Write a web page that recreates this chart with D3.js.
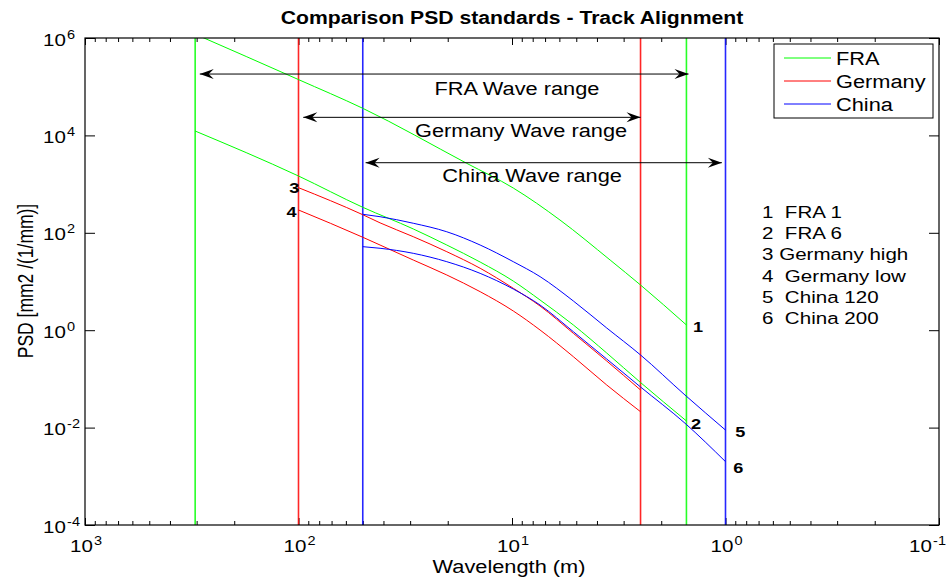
<!DOCTYPE html>
<html>
<head>
<meta charset="utf-8">
<script src="https://cdn.jsdelivr.net/npm/d3@7"></script>
<style>
	body { margin: 0; background: #fff; }
	svg { display: block; font-family: Arial, "Liberation Sans", Helvetica, sans-serif; }
	.tick line { stroke: #000; }
</style>
</head>
<body>
<script>

// кривые PSD: длина волны (м) и значение (mm2/(1/mm))
const fra1Wave = [304.8, 100, 50, 16.3, 9.86, 5.96, 3.47, 2.5, 1.524];
const fra1Psd = [1.2e6, 1.4e5, 3.6e4, 2674, 830, 183, 27.6, 8.47, 1.28];

const fra6Wave = [304.8, 100, 50, 29, 20.2, 14.1, 9.86, 7.39, 5.16, 3.6, 2.5, 1.524];
const fra6Psd = [1.23e4, 1466, 334, 120, 56.1, 25.1, 10.2, 4.17, 1.28, 0.34, 0.0843, 0.0137];

const germanyWave = [100, 50, 41.5, 29, 20.2, 14.1, 9.86, 7.39, 5.16, 3.6, 2.5];
const germanyHighPsd = [844, 235, 160, 83.2, 40.9, 18.7, 7.25, 3.14, 0.863, 0.233, 0.0592];
const germanyLowPsd = [294, 81, 56.1, 27.6, 13.6, 6.18, 2.48, 1.01, 0.286, 0.075, 0.0212];

const chinaWave = [50, 41.5, 29, 20.2, 14.1, 9.86, 7.39, 5.16, 3.6, 2.5, 1.548, 1];
const china120Psd = [240, 214, 157, 105, 56.1, 25.5, 12.6, 3.98, 1.11, 0.31, 0.0467, 0.0089];
const china200Psd = [51.9, 48.1, 37.9, 25.5, 14.7, 7.0, 3.29, 0.931, 0.256, 0.0682, 0.0123, 0.002];

// границы диапазонов длин волн (вертикальные линии)
const standards = ["FRA", "Germany", "China"];
const rangeLong = [304.8, 100, 50];
const rangeShort = [1.524, 2.5, 1];

// стрелки диапазонов
const arrowFrom = [290, 95, 48.5];
const arrowTo = [1.49, 2.5, 1.04];
const arrowLevel = [1.82e5, 2.35e4, 2750];
const rangeLabels = ["FRA Wave range", "Germany Wave range", "China Wave range"];
const rangeLabelWave = [9.48, 9.07, 8.05];
const rangeLabelPsd = [6.7e4, 9270, 1100];

// подписи кривых
const curveNumbers = ["1", "2", "3", "4", "5", "6"];
const curveNames = ["FRA 1", "FRA 6", "Germany high", "Germany low", "China 120", "China 200"];
const curveNumberWave = [1.42, 1.45, 99, 102, 0.9, 0.92];
const curveNumberPsd = [0.918, 0.0094, 656, 211, 0.0064, 0.00117];

// оси
const waveTicks = [1000, 100, 10, 1, 0.1];
const psdTicks = [1e-4, 1e-2, 1, 1e2, 1e4, 1e6];

const w = 951,
	h = 580,
	plot = { left: 85, right: 939, top: 38, bottom: 525 },
	stretch = 1.21;

const colors = { FRA: "#00ff00", Germany: "#ff0000", China: "#0000ff" };

const series = [
	{ group: "FRA", wave: fra1Wave, psd: fra1Psd },
	{ group: "FRA", wave: fra6Wave, psd: fra6Psd },
	{ group: "Germany", wave: germanyWave, psd: germanyHighPsd },
	{ group: "Germany", wave: germanyWave, psd: germanyLowPsd },
	{ group: "China", wave: chinaWave, psd: china120Psd },
	{ group: "China", wave: chinaWave, psd: china200Psd }
];

const x = d3.scaleLog().domain([1000, 0.1]).range([plot.left, plot.right]),
	y = d3.scaleLog().domain([1e-4, 1e6]).range([plot.bottom, plot.top]);

const svg = d3
	.select("body")
	.append("svg")
	.attr("width", w)
	.attr("height", h);

// текст, растянутый по горизонтали как в исходной картинке
function label(g, px, py, str, size, anchor, weight) {
	return g
		.append("text")
		.attr("transform", `translate(${px},${py}) scale(${stretch},1)`)
		.attr("text-anchor", anchor || "start")
		.attr("font-size", size)
		.attr("font-weight", weight || "normal")
		.style("white-space", "pre")
		.text(str);
}

svg.append("clipPath")
	.attr("id", "clip")
	.append("rect")
	.attr("x", plot.left)
	.attr("y", plot.top)
	.attr("width", plot.right - plot.left)
	.attr("height", plot.bottom - plot.top);

// засечки
const minorTicks = [];
[-1, 0, 1, 2].forEach(k => {
	for (let m = 2; m <= 9; m++) minorTicks.push(m * Math.pow(10, k));
});

const axes = svg.append("g");

function drawAxis(axis, tx, ty, values, size) {
	axes.append("g")
		.attr("transform", `translate(${tx},${ty})`)
		.call(axis.tickValues(values).tickSizeInner(-size).tickSizeOuter(0).tickFormat(""))
		.call(g => g.select(".domain").remove());
}

drawAxis(d3.axisBottom(x), 0, plot.bottom, waveTicks, 7);
drawAxis(d3.axisBottom(x), 0, plot.bottom, minorTicks, 4);
drawAxis(d3.axisTop(x), 0, plot.top, waveTicks, 7);
drawAxis(d3.axisTop(x), 0, plot.top, minorTicks, 4);
drawAxis(d3.axisLeft(y), plot.left, 0, psdTicks, 10);
drawAxis(d3.axisRight(y), plot.right, 0, psdTicks, 10);

// кривые
const line = d3
	.line()
	.x(d => x(d[0]))
	.y(d => y(d[1]))
	.curve(d3.curveMonotoneX);

const curves = svg.append("g").attr("clip-path", "url(#clip)");

// вертикальные границы диапазонов
standards.forEach((s, i) => {
	[rangeLong[i], rangeShort[i]].forEach(v => {
		curves.append("line")
			.attr("x1", x(v))
			.attr("x2", x(v))
			.attr("y1", y(1e-4))
			.attr("y2", y(1e6))
			.attr("stroke", colors[s])
			.attr("stroke-opacity", 0.85)
			.attr("stroke-width", 1.6);
	});
});

curves.selectAll("path.curve")
	.data(series)
	.enter()
	.append("path")
	.attr("class", "curve")
	.attr("fill", "none")
	.attr("stroke", d => colors[d.group])
	.attr("stroke-width", 1)
	.attr("d", d => line(d.wave.map((v, i) => [v, d.psd[i]])));

// стрелки
svg.append("defs")
	.append("marker")
	.attr("id", "arrow")
	.attr("viewBox", "-15 -6 16 12")
	.attr("refX", 0)
	.attr("refY", 0)
	.attr("markerWidth", 16)
	.attr("markerHeight", 12)
	.attr("markerUnits", "userSpaceOnUse")
	.attr("orient", "auto-start-reverse")
	.append("path")
	.attr("d", "M0,0L-14,-5L-9,0L-14,5Z")
	.attr("fill", "#000");

const notes = svg.append("g");

rangeLabels.forEach((t, i) => {
	notes.append("line")
		.attr("x1", x(arrowFrom[i]))
		.attr("x2", x(arrowTo[i]))
		.attr("y1", y(arrowLevel[i]))
		.attr("y2", y(arrowLevel[i]))
		.attr("stroke", "#000")
		.attr("stroke-width", 1)
		.attr("marker-start", "url(#arrow)")
		.attr("marker-end", "url(#arrow)");

	label(notes, x(rangeLabelWave[i]), y(rangeLabelPsd[i]), t, 18, "middle");
});

// номера кривых
curveNumbers.forEach((n, i) => {
	label(notes, x(curveNumberWave[i]), y(curveNumberPsd[i]), n, 15, i === 2 || i === 3 ? "end" : "start", "bold");
});

// список обозначений
curveNames.forEach((n, i) => {
	const gap = i === 2 ? " " : "  ";
	label(notes, 762, 218 + i * 21.2, curveNumbers[i] + gap + n, 17);
});

// рамка осей
svg.append("rect")
	.attr("x", plot.left)
	.attr("y", plot.top)
	.attr("width", plot.right - plot.left)
	.attr("height", plot.bottom - plot.top)
	.attr("fill", "none")
	.attr("stroke", "#000")
	.attr("stroke-width", 1.2);

// подписи делений 10^n
function powerLabel(px, py, value) {
	const t = label(svg, px, py, "10", 17);
	t.append("tspan")
		.attr("dx", 1)
		.attr("dy", -7)
		.attr("font-size", 12)
		.text(Math.round(Math.log10(value)));
}

// последняя подпись сдвинута, чтобы не обрезалась краем
waveTicks.forEach(v => powerLabel(Math.min(x(v) - 15, w - 42), 552, v));
psdTicks.forEach(v => powerLabel(43, y(v) + 7.5, v));

// легенда
const legend = svg.append("g");

legend.append("rect")
	.attr("x", 774)
	.attr("y", 44)
	.attr("width", 159)
	.attr("height", 74)
	.attr("fill", "#fff")
	.attr("stroke", "#000")
	.attr("stroke-width", 1);

standards.forEach((s, i) => {
	const ly = 58 + i * 23;
	legend.append("line")
		.attr("x1", 784)
		.attr("x2", 831)
		.attr("y1", ly)
		.attr("y2", ly)
		.attr("stroke", colors[s]);
	label(legend, 836, ly + 6.5, s, 18);
});

// заголовок и подписи осей
label(svg, (plot.left + plot.right) / 2, 24, "Comparison PSD standards - Track Alignment", 17.5, "middle", "bold");
label(svg, 509, 573, "Wavelength (m)", 18, "middle");

svg.append("text")
	.attr("transform", "translate(33,281) rotate(-90) scale(1,1.21)")
	.attr("text-anchor", "middle")
	.attr("font-size", 17.5)
	.text("PSD [mm2 /(1/mm)]");

</script>
</body>
</html>
